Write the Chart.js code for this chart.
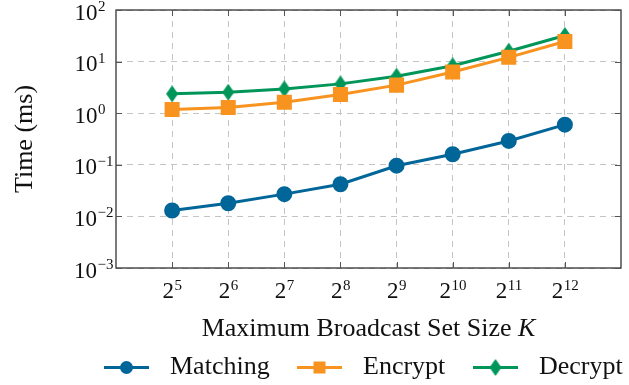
<!DOCTYPE html>
<html>
<head>
<meta charset="utf-8">
<script src="https://cdn.jsdelivr.net/npm/chart.js@4"></script>
<style>
  html, body { margin: 0; padding: 0; background: #fff; }
  #wrap { width: 629px; height: 385px; }
</style>
</head>
<body>
<div id="wrap"><canvas id="timeChart" width="629" height="385"></canvas></div>
<script>
// K = 2^exponent
const exponents = [5, 6, 7, 8, 9, 10, 11, 12];
const matching = [0.013, 0.018, 0.027, 0.042, 0.096, 0.16, 0.29, 0.60];
const encrypt = [1.18, 1.29, 1.63, 2.3, 3.5, 6.3, 12.1, 24.5];
const decrypt = [2.37, 2.55, 2.96, 3.7, 5.2, 8.3, 15.9, 32];
const yDecades = [-3, -2, -1, 0, 1, 2];

const seriesNames = ["Matching", "Encrypt", "Decrypt"];
const colors = ["#006699", "#F7931E", "#00965A"];

const FONT = "'Liberation Serif', 'Times New Roman', serif";
const TICK_PX = 23;
const TEXT_PX = 26;

// diamond marker, taller than wide
function makeDiamond(w, h, color) {
  const c = document.createElement("canvas");
  c.width = w; c.height = h;
  const g = c.getContext("2d");
  g.fillStyle = color;
  g.beginPath();
  g.moveTo(w / 2, 0);
  g.lineTo(w, h / 2);
  g.lineTo(w / 2, h);
  g.lineTo(0, h / 2);
  g.closePath();
  g.fill();
  return c;
}
const diamond = makeDiamond(12, 17, colors[2]);

const toPoints = arr => arr.map((v, i) => ({ x: exponents[i], y: v }));

// draws base with a raised exponent, aligned by "align" at x
function drawPow(ctx, base, exp, x, baseline, align) {
  ctx.font = TICK_PX + "px " + FONT;
  const bw = ctx.measureText(base).width;
  ctx.font = "15px " + FONT;
  const ew = ctx.measureText(exp).width;
  let left = x;
  if (align === "center") left = x - (bw + ew) / 2;
  if (align === "right") left = x - bw - ew;
  ctx.textAlign = "left";
  ctx.textBaseline = "alphabetic";
  ctx.font = TICK_PX + "px " + FONT;
  ctx.fillText(base, left, baseline);
  ctx.font = "15px " + FONT;
  ctx.fillText(exp, left + bw + 0.5, baseline - 8.5);
}

const decorPlugin = {
  id: "decor",
  afterDraw(chart) {
    const { ctx, chartArea: a, scales: { x, y } } = chart;
    ctx.save();
    ctx.fillStyle = "#111";

    // frame
    ctx.strokeStyle = "#333";
    ctx.lineWidth = 1.3;
    ctx.setLineDash([]);
    ctx.strokeRect(a.left, a.top, a.right - a.left, a.bottom - a.top);

    // inner tick marks
    ctx.strokeStyle = "#555";
    ctx.lineWidth = 1;
    ctx.beginPath();
    exponents.forEach(e => {
      const px = Math.round(x.getPixelForValue(e)) + 0.5;
      ctx.moveTo(px, a.bottom); ctx.lineTo(px, a.bottom - 6);
      ctx.moveTo(px, a.top); ctx.lineTo(px, a.top + 6);
    });
    yDecades.forEach(d => {
      const py = Math.round(y.getPixelForValue(Math.pow(10, d))) + 0.5;
      ctx.moveTo(a.left, py); ctx.lineTo(a.left + 6, py);
      ctx.moveTo(a.right, py); ctx.lineTo(a.right - 6, py);
    });
    ctx.stroke();

    // x tick labels
    exponents.forEach(e => {
      drawPow(ctx, "2", String(e), x.getPixelForValue(e), a.bottom + 30, "center");
    });
    // y tick labels
    yDecades.forEach(d => {
      const py = y.getPixelForValue(Math.pow(10, d));
      const exp = d < 0 ? "\u2212" + (-d) : String(d);
      drawPow(ctx, "10", exp, d < 0 ? a.left - 3 : a.left - 11, py + 9.5, "right");
    });

    // axis titles
    ctx.textAlign = "left";
    ctx.textBaseline = "alphabetic";
    const t1 = "Maximum Broadcast Set Size ";
    ctx.font = TEXT_PX + "px " + FONT;
    const w1 = ctx.measureText(t1).width;
    ctx.font = "italic " + TEXT_PX + "px " + FONT;
    const w2 = ctx.measureText("K").width;
    const cx = (a.left + a.right) / 2;
    ctx.font = TEXT_PX + "px " + FONT;
    ctx.fillText(t1, cx - (w1 + w2) / 2, 336);
    ctx.font = "italic " + TEXT_PX + "px " + FONT;
    ctx.fillText("K", cx - (w1 + w2) / 2 + w1, 336);

    ctx.save();
    ctx.translate(32, (a.top + a.bottom) / 2);
    ctx.rotate(-Math.PI / 2);
    ctx.font = TEXT_PX + "px " + FONT;
    ctx.textAlign = "center";
    ctx.fillText("Time (ms)", 0, 0);
    ctx.restore();

    // legend: line + marker + name
    const legendX = [104, 297, 473];
    const ly = 367.5;
    chart.data.datasets.forEach((ds, i) => {
      const lx = legendX[i];
      ctx.strokeStyle = ds.borderColor;
      ctx.lineWidth = 3;
      ctx.beginPath();
      ctx.moveTo(lx, ly); ctx.lineTo(lx + 45, ly);
      ctx.stroke();
      const mx = lx + 22.5;
      ctx.fillStyle = ds.borderColor;
      if (i === 0) {
        ctx.beginPath(); ctx.arc(mx, ly, 6.5, 0, Math.PI * 2); ctx.fill();
      } else if (i === 1) {
        ctx.fillRect(mx - 6, ly - 6, 12, 12);
      } else {
        ctx.drawImage(diamond, mx - 6, ly - 8.5);
      }
      ctx.fillStyle = "#111";
      ctx.font = TEXT_PX + "px " + FONT;
      ctx.textAlign = "left";
      ctx.fillText(ds.label, lx + 66, 374);
    });
    ctx.restore();
  }
};

const ctx = document.getElementById("timeChart").getContext("2d");

new Chart(ctx, {
  type: "line",
  data: {
    datasets: [
      {
        label: seriesNames[0],
        data: toPoints(matching),
        borderColor: colors[0],
        backgroundColor: colors[0],
        pointStyle: "circle",
        pointRadius: 6.5,
        borderWidth: 3
      },
      {
        label: seriesNames[1],
        data: toPoints(encrypt),
        borderColor: colors[1],
        backgroundColor: colors[1],
        pointStyle: "rect",
        pointRadius: 8.5,
        borderWidth: 3
      },
      {
        label: seriesNames[2],
        data: toPoints(decrypt),
        borderColor: colors[2],
        backgroundColor: colors[2],
        pointStyle: diamond,
        borderWidth: 3
      }
    ]
  },
  options: {
    responsive: false,
    animation: false,
    layout: { autoPadding: false, padding: { left: 116, right: 8, top: 10, bottom: 117 } },
    elements: { point: { borderWidth: 0, hoverRadius: 6.5 }, line: { tension: 0 } },
    plugins: { legend: { display: false }, tooltip: { enabled: false } },
    scales: {
      x: {
        type: "linear",
        min: 4,
        max: 13,
        afterBuildTicks: s => { s.ticks = exponents.map(v => ({ value: v })); },
        ticks: { display: false },
        grid: { color: "#c4c4c4", lineWidth: 1, drawTicks: false },
        border: { display: false, dash: [6, 5] }
      },
      y: {
        type: "logarithmic",
        min: 0.001,
        max: 100,
        afterBuildTicks: s => { s.ticks = yDecades.map(d => ({ value: Math.pow(10, d) })); },
        ticks: { display: false },
        grid: { color: "#c4c4c4", lineWidth: 1, drawTicks: false },
        border: { display: false, dash: [6, 5] }
      }
    }
  },
  plugins: [decorPlugin]
});
</script>
</body>
</html>
